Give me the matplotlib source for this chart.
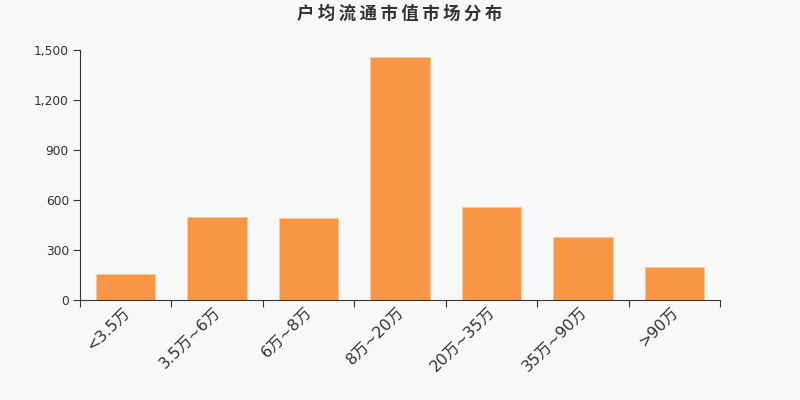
import matplotlib
matplotlib.use("Agg")
import matplotlib.pyplot as plt
from matplotlib.transforms import ScaledTranslation

plt.rcParams['font.family'] = ['DejaVu Sans', 'Noto Sans CJK SC']

categories = ["<3.5万", "3.5万~6万", "6万~8万", "8万~20万", "20万~35万", "35万~90万", ">90万"]
values = [156, 498, 490, 1458, 556, 378, 200]
yticks = [0, 300, 600, 900, 1200, 1500]
title = "户均流通市值市场分布"

bg = "#f8f8f8"
fig = plt.figure(figsize=(8, 4), dpi=100, facecolor=bg)
ax = fig.add_axes([0.1, 0.25, 0.8, 0.625], facecolor=bg)

x = list(range(len(categories)))
ax.bar(x, values, width=0.65, color="#f79746", edgecolor="#f9c79c", linewidth=0.6, zorder=2)

ax.set_xlim(-0.5, len(categories) - 0.5)
ax.set_ylim(0, 1500)
ax.set_yticks(yticks)
ax.set_yticklabels([f"{v:,}" for v in yticks], fontsize=8.8, color="#333333")

ax.set_xticks([i - 0.5 for i in range(len(categories) + 1)])
ax.set_xticklabels([])
ax.set_xticks(x, minor=True)
ax.set_xticklabels(categories, minor=True, rotation=45, ha='right',
                   rotation_mode='anchor', fontsize=11.3, color="#333333")
ax.tick_params(axis='x', which='minor', length=0, pad=3)
ax.tick_params(axis='x', which='major', length=5, width=0.8, color="#333333")
ax.tick_params(axis='y', length=5, width=0.8, color="#333333", pad=3)

offset = ScaledTranslation(-4 / 100, 0, fig.dpi_scale_trans)
for lbl in ax.get_xticklabels(minor=True):
    lbl.set_transform(lbl.get_transform() + offset)

for s in ['top', 'right']:
    ax.spines[s].set_visible(False)
for s in ['left', 'bottom']:
    ax.spines[s].set_color("#333333")
    ax.spines[s].set_linewidth(0.8)

fig.text(0.5, 0.965, "\u2009".join(title), ha='center', va='center',
         fontsize=12.5, fontweight='bold', color="#333333",
         family=['DejaVu Sans', 'Noto Sans CJK SC'])

fig.savefig("out.png", dpi=100, facecolor=bg)
